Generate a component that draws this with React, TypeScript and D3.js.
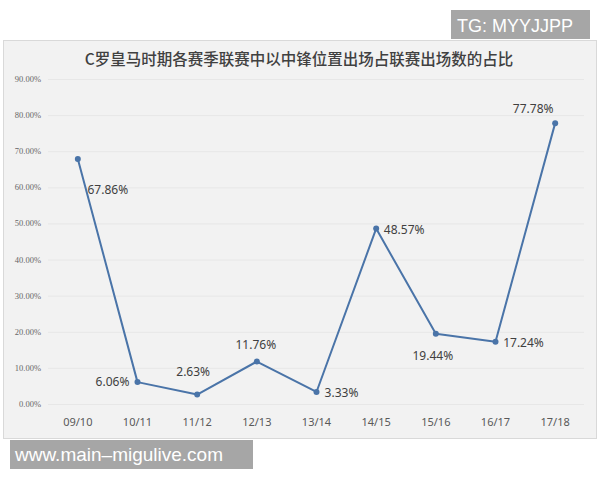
import { useEffect, useRef } from "react";
import * as d3 from "d3";

const WIDTH = 600;
const HEIGHT = 480;

// values
const seasons = ["09/10", "10/11", "11/12", "12/13", "13/14", "14/15", "15/16", "16/17", "17/18"];
const shares = [0.6786, 0.0606, 0.0263, 0.1176, 0.0333, 0.4857, 0.1944, 0.1724, 0.7778];
const yTicks = [0, 0.1, 0.2, 0.3, 0.4, 0.5, 0.6, 0.7, 0.8, 0.9];

// where each data label sits relative to its point (centre of the text)
const labelNudge: [number, number][] = [
  [30, 31],
  [-25, -1],
  [-4, -23],
  [-1, -17],
  [25, 1],
  [28, 1],
  [-3, 22],
  [28, 1],
  [-22, -15],
];

const TITLE = "C罗皇马时期各赛季联赛中以中锋位置出场占联赛出场数的占比";
const LINE_COLOR = "#4a74a8";

export default function App() {
  const svgRef = useRef<SVGSVGElement>(null);

  useEffect(() => {
    const svg = d3.select(svgRef.current);
    svg.selectAll("*").remove();

    const x = d3.scaleBand<string>().domain(seasons).range([48, 585]);
    const y = d3.scaleLinear().domain([0, 0.9]).range([404, 79]);
    const cx = (s: string) => (x(s) as number) + x.bandwidth() / 2;
    const pct = d3.format(".2%");

    // chart panel
    svg
      .append("rect")
      .attr("x", 3.5)
      .attr("y", 40.5)
      .attr("width", 593)
      .attr("height", 398)
      .attr("fill", "#f2f2f2")
      .attr("stroke", "#d9d9d9");

    svg
      .append("text")
      .attr("x", 299)
      .attr("y", 65)
      .attr("text-anchor", "middle")
      .attr("font-family", "'Noto Sans CJK SC', sans-serif")
      .attr("font-size", 15.5)
      .attr("font-weight", 500)
      .attr("fill", "#404040")
      .text(TITLE);

    // gridlines + y tick labels
    const grid = svg.append("g");
    grid
      .selectAll("line")
      .data(yTicks)
      .join("line")
      .attr("x1", 48)
      .attr("x2", 584)
      .attr("y1", (d) => y(d) + 0.5)
      .attr("y2", (d) => y(d) + 0.5)
      .attr("stroke", "#e7e7e7")
      .attr("stroke-width", 1);
    grid
      .selectAll("text")
      .data(yTicks)
      .join("text")
      .attr("x", 41)
      .attr("y", (d) => y(d) + 3)
      .attr("text-anchor", "end")
      .attr("font-family", "'Liberation Serif', serif")
      .attr("font-size", 8.5)
      .attr("fill", "#666666")
      .text((d) => pct(d));

    // x labels
    svg
      .append("g")
      .selectAll("text")
      .data(seasons)
      .join("text")
      .attr("x", (d) => cx(d))
      .attr("y", 426)
      .attr("text-anchor", "middle")
      .attr("font-family", "'Noto Sans', sans-serif")
      .attr("font-size", 11)
      .attr("fill", "#595959")
      .text((d) => d);

    const points = seasons.map((s, i) => ({ s, v: shares[i], i }));

    const line = d3
      .line<{ s: string; v: number }>()
      .x((d) => cx(d.s))
      .y((d) => y(d.v));

    svg
      .append("path")
      .datum(points)
      .attr("d", line)
      .attr("fill", "none")
      .attr("stroke", LINE_COLOR)
      .attr("stroke-width", 2)
      .attr("stroke-linejoin", "round");

    svg
      .append("g")
      .selectAll("circle")
      .data(points)
      .join("circle")
      .attr("cx", (d) => cx(d.s))
      .attr("cy", (d) => y(d.v))
      .attr("r", 3)
      .attr("fill", LINE_COLOR);

    svg
      .append("g")
      .selectAll("text")
      .data(points)
      .join("text")
      .attr("x", (d) => cx(d.s) + labelNudge[d.i][0])
      .attr("y", (d) => y(d.v) + labelNudge[d.i][1] + 4.5)
      .attr("text-anchor", "middle")
      .attr("font-family", "'Noto Sans', sans-serif")
      .attr("font-size", 12)
      .attr("fill", "#404040")
      .text((d) => pct(d.v));

    // watermarks
    svg
      .append("rect")
      .attr("x", 451)
      .attr("y", 10)
      .attr("width", 139)
      .attr("height", 29)
      .attr("fill", "#a6a6a6");
    svg
      .append("text")
      .attr("x", 457)
      .attr("y", 32)
      .attr("font-family", "'Liberation Sans', Arial, sans-serif")
      .attr("font-size", 18)
      .attr("fill", "#ffffff")
      .text("TG: MYYJJPP");

    svg
      .append("rect")
      .attr("x", 10)
      .attr("y", 440)
      .attr("width", 243)
      .attr("height", 29)
      .attr("fill", "#a6a6a6");
    svg
      .append("text")
      .attr("x", 15)
      .attr("y", 461)
      .attr("font-family", "'Liberation Sans', Arial, sans-serif")
      .attr("font-size", 19)
      .attr("fill", "#ffffff")
      .text("www.main–migulive.com");
  }, []);

  return (
    <svg
      ref={svgRef}
      width={WIDTH}
      height={HEIGHT}
      style={{ position: "absolute", left: 0, top: 0, background: "#ffffff" }}
    />
  );
}
